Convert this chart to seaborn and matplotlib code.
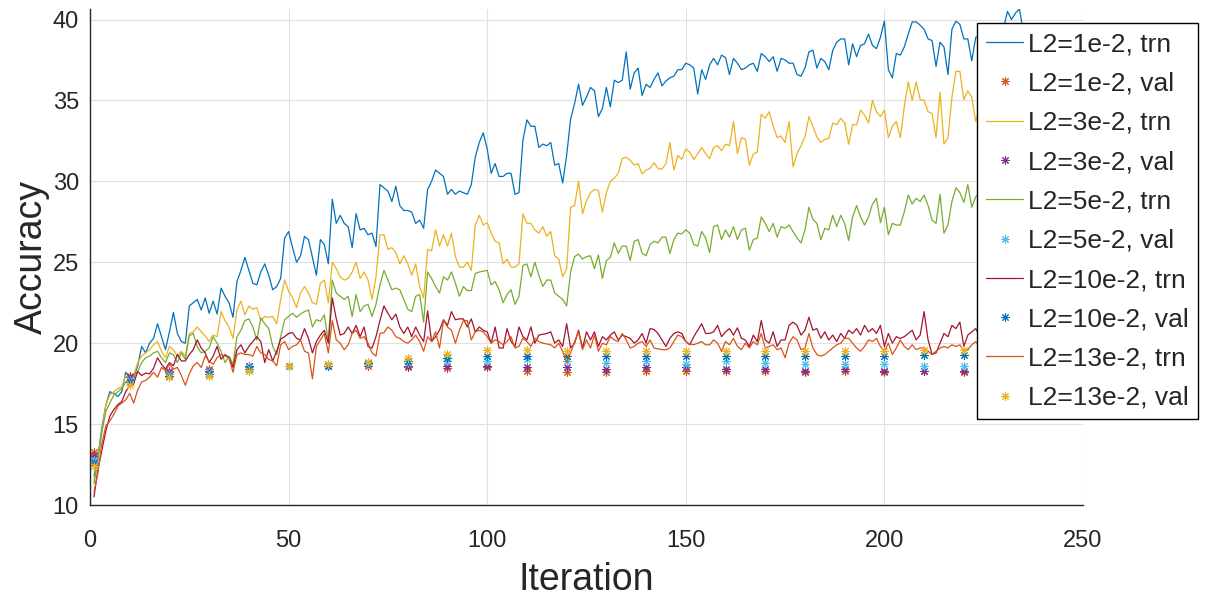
import numpy as np
import matplotlib
matplotlib.use("Agg")
import matplotlib.pyplot as plt
import seaborn as sns

# Training accuracy is logged every iteration, validation every 10 iterations
iters_trn = np.arange(1, 241)
iters_val = [1, 10, 20, 30, 40, 50, 60, 70, 80, 90, 100, 110, 120,
             130, 140, 150, 160, 170, 180, 190, 200, 210, 220, 230]

acc_trn_1e2 = [
    11.8, 13.0, 14.8, 16.2, 17.0, 16.9, 16.7, 17.0, 18.2, 17.9,
    17.9, 18.6, 19.8, 19.4, 20.0, 20.3, 21.2, 20.4, 19.6, 20.7,
    21.9, 20.6, 20.1, 20.0, 22.3, 22.5, 22.7, 22.05, 22.8, 21.85,
    22.6, 21.8, 23.4, 22.9, 22.5, 21.6, 23.8, 24.5, 25.3, 24.5,
    23.7, 23.6, 24.4, 24.9, 24.2, 23.3, 23.5, 24.0, 26.5, 26.9,
    25.9, 25.0, 25.4, 26.6, 26.4, 25.3, 24.2, 26.4, 26.1, 24.9,
    28.9, 27.4, 27.9, 27.4, 27.2, 25.9, 28.0, 27.0, 27.1, 26.7,
    26.8, 25.97, 29.8, 29.6, 29.4, 28.75, 29.7, 28.5, 28.2, 28.2,
    28.1, 27.4, 27.6, 27.1, 29.5, 30.0, 30.7, 30.5, 30.3, 29.2,
    29.5, 29.2, 29.4, 29.3, 29.2, 29.8, 31.5, 32.4, 33.0, 32.0,
    30.5, 31.1, 30.3, 30.3, 30.5, 30.5, 29.2, 29.3, 32.55, 33.8,
    33.4, 33.4, 32.1, 32.3, 32.2, 32.4, 31.0, 31.1, 29.9, 31.6,
    33.85, 34.8, 36.0, 34.7, 35.2, 35.8, 35.6, 34.0, 34.5, 35.8,
    34.6, 36.25, 36.1, 36.25, 38.0, 35.7, 36.7, 37.0, 35.3, 36.0,
    35.8, 36.3, 36.7, 35.9, 36.2, 36.4, 36.5, 36.9, 36.9, 37.3,
    37.2, 37.0, 35.4, 36.9, 36.3, 37.2, 37.6, 37.2, 37.8, 37.65,
    36.6, 37.6, 37.3, 36.9, 37.0, 37.2, 37.3, 36.8, 37.9, 37.7,
    37.4, 37.7, 36.8, 37.6, 37.5, 37.3, 37.3, 36.6, 36.5, 37.0,
    38.0, 38.1, 37.0, 37.6, 37.4, 36.9, 38.1, 38.6, 38.8, 38.8,
    37.2, 38.5, 37.7, 38.4, 38.5, 39.1, 38.4, 38.2, 38.9, 39.9,
    36.9, 36.4, 37.9, 37.8, 38.3, 39.1, 39.85, 39.85, 39.65, 39.4,
    38.8, 38.7, 37.1, 38.6, 38.3, 36.6, 39.4, 39.9, 39.7, 38.8,
    38.8, 37.45, 38.9, 39.0, 38.5, 37.8, 38.6, 39.2, 38.9, 39.5,
    40.5, 40.0, 40.4, 40.65, 39.2, 39.6, 39.7, 39.0, 38.6, 39.3,
]
acc_trn_3e2 = [
    11.5, 12.9, 14.6, 16.2, 16.8, 17.0, 17.2, 17.3, 18.0, 17.7,
    18.0, 18.8, 19.2, 19.4, 19.6, 19.9, 20.1, 19.5, 19.1, 19.8,
    19.6, 19.2, 19.5, 19.2, 20.6, 20.7, 21.0, 20.7, 20.45, 20.1,
    20.5, 20.4, 21.95, 21.4, 21.0, 20.3, 22.05, 22.6, 21.75, 22.3,
    22.1, 22.2, 21.4, 21.65, 21.6, 21.65, 21.2, 22.7, 23.9, 23.2,
    22.8, 22.2, 23.1, 23.5, 23.1, 22.5, 22.4, 23.7, 23.9, 22.5,
    25.0, 24.6, 24.1, 23.9, 24.0, 24.4, 25.0, 24.0, 24.4, 23.9,
    22.7, 24.1, 26.7, 26.7, 25.8, 25.9, 25.6, 24.9, 25.4, 24.9,
    24.2, 24.9, 23.5, 22.8, 25.8, 25.7, 27.0, 26.0, 26.7, 26.0,
    26.8, 25.35, 24.7, 24.7, 25.0, 24.5, 27.3, 27.9, 27.3, 27.45,
    26.8, 26.3, 26.2, 24.9, 25.2, 24.7, 24.7, 24.9, 28.0, 27.4,
    27.4, 27.0, 26.8, 27.2, 26.6, 26.9, 25.4, 25.2, 24.1, 24.6,
    28.4, 28.5, 30.0, 28.0, 28.8, 29.3, 29.5, 29.45, 28.1, 29.3,
    30.0, 30.2, 30.5, 31.4, 31.5, 31.3, 31.0, 31.1, 30.45, 30.7,
    30.8, 31.15, 30.8, 30.75, 31.1, 32.4, 30.7, 31.6, 31.35, 32.0,
    31.8, 31.35, 31.7, 32.1, 31.7, 31.4, 32.1, 32.2, 31.9, 32.3,
    32.2, 33.7, 31.7, 32.7, 32.6, 31.0, 31.7, 31.8, 34.15, 33.9,
    34.3, 33.4, 32.7, 32.8, 32.4, 33.7, 30.9, 31.7, 32.2, 32.75,
    34.0, 33.4, 32.75, 32.4, 32.6, 32.65, 33.6, 33.5, 33.9, 33.6,
    32.3, 33.5, 33.5, 34.4, 34.1, 33.6, 35.0, 34.3, 34.0, 34.4,
    32.7, 33.4, 33.7, 32.7, 34.6, 36.15, 35.0, 36.15, 35.05, 35.0,
    34.3, 34.2, 32.7, 35.5, 32.3, 32.7, 35.2, 36.8, 36.8, 35.05,
    35.6, 35.2, 33.7, 34.6, 35.4, 34.8, 36.0, 35.3, 34.7, 35.8,
    36.4, 35.6, 35.9, 36.6, 35.2, 34.9, 35.7, 36.2, 35.5, 35.9,
]
acc_trn_5e2 = [
    11.3, 12.8, 14.5, 15.8, 16.3, 16.8, 17.0, 17.2, 17.6, 17.7,
    17.9, 18.25, 18.8, 19.1, 19.2, 19.4, 19.5, 19.1, 18.8, 19.4,
    19.3, 18.8, 19.4, 19.0, 20.45, 20.6, 19.8, 19.4, 19.5, 19.7,
    20.4, 20.0, 19.5, 18.8, 19.2, 18.7, 20.4, 20.8, 21.4, 21.5,
    21.0, 20.2, 21.55, 21.2, 20.9, 19.8, 19.3, 20.4, 21.45, 21.65,
    21.85, 21.6, 21.8, 21.95, 22.05, 21.0, 21.45, 21.35, 21.75, 20.1,
    23.9, 23.1, 22.9, 22.7, 22.9, 21.65, 23.0, 21.95, 22.3, 22.4,
    21.65, 22.4, 23.6, 24.5, 23.9, 23.3, 23.4, 23.3, 22.7, 22.1,
    21.95, 22.9, 23.0, 21.3, 24.4, 24.0, 23.5, 23.1, 24.1, 23.9,
    24.4, 23.7, 22.9, 23.5, 23.25, 23.25, 24.3, 24.4, 24.45, 24.5,
    23.6, 23.8, 23.3, 22.5, 23.0, 23.3, 22.4, 22.9, 24.8, 24.9,
    24.1, 25.0, 24.2, 23.5, 23.9, 23.9, 23.1, 22.9, 22.7, 22.3,
    24.4, 25.35, 25.5, 25.2, 25.35, 25.4, 24.6, 25.45, 24.0, 25.1,
    25.3, 26.2, 25.55, 26.0, 26.0, 25.1, 26.3, 26.4, 25.55, 25.4,
    26.1, 26.3, 26.2, 26.55, 26.55, 25.55, 26.4, 26.8, 26.75, 27.0,
    26.8, 26.1, 26.0, 26.9, 26.5, 25.6, 27.2, 27.3, 26.4, 27.0,
    26.55, 27.2, 26.4, 27.0, 27.1, 25.75, 26.4, 26.5, 27.8, 27.4,
    26.9, 27.4, 26.55, 27.2, 27.1, 27.3, 26.9, 26.5, 26.2, 27.0,
    28.4, 27.65, 27.4, 26.4, 27.1, 27.0, 27.9, 27.2, 27.9, 27.4,
    26.35, 27.8, 28.5, 27.8, 27.3, 27.8, 28.6, 28.95, 27.45, 28.4,
    26.7, 27.4, 27.3, 27.3, 28.1, 29.15, 28.6, 28.95, 28.75, 29.15,
    28.5, 27.6, 27.4, 29.2, 26.8, 27.3, 28.75, 29.6, 29.3, 28.7,
    29.8, 28.4, 29.05, 29.3, 28.8, 29.5, 28.9, 29.9, 29.4, 29.1,
    30.0, 29.6, 29.2, 29.8, 30.2, 29.5, 29.9, 30.3, 29.7, 30.1,
]
acc_trn_10e2 = [
    10.5, 12.2, 13.4, 14.6, 15.5, 15.9, 16.2, 16.4, 17.0, 17.4,
    17.5, 18.25, 18.0, 18.15, 18.1, 18.45, 19.1, 18.7, 18.4, 18.8,
    18.6, 19.3, 18.9, 18.9, 19.3, 19.6, 20.2, 19.7, 19.4, 18.8,
    19.2, 19.8, 19.0, 19.3, 19.1, 18.5, 19.6, 19.9, 19.4, 19.8,
    20.1, 20.4, 20.1, 18.8, 19.6, 18.9, 19.5, 20.25, 20.4, 20.6,
    20.65, 20.3, 20.2, 20.9, 20.3, 19.4, 20.1, 20.5, 20.8, 20.0,
    22.8, 21.5, 20.5, 20.6, 21.0, 20.6, 21.1, 20.4, 21.0, 19.8,
    19.7, 20.4, 21.4, 22.3, 21.85, 21.45, 21.8, 21.0, 20.6, 21.0,
    20.4, 21.0, 20.5, 20.1, 22.0, 20.1, 20.4, 20.8, 21.45, 21.1,
    21.95, 21.45, 21.5, 21.5, 21.0, 21.5, 20.7, 21.0, 20.8, 20.7,
    20.0, 21.0, 19.7, 19.7, 20.9, 20.1, 19.8, 21.0, 20.4, 20.2,
    21.0, 20.0, 20.5, 20.55, 20.6, 20.7, 20.0, 20.2, 19.8, 21.2,
    19.7, 20.0, 20.8, 19.7, 20.7, 20.2, 20.7, 19.8, 20.4, 20.2,
    20.5, 20.7, 20.2, 20.5, 20.4, 20.3, 20.0, 20.2, 20.6, 20.0,
    20.9, 20.85, 20.6, 20.2, 19.8, 20.3, 20.6, 20.7, 20.6, 20.1,
    19.9, 20.4, 20.8, 21.2, 20.6, 20.6, 20.7, 21.1, 20.4, 20.7,
    20.9, 20.5, 20.95, 20.3, 20.2, 19.8, 20.5, 20.1, 21.4, 20.2,
    20.0, 20.7, 19.8, 20.2, 20.2, 21.1, 21.3, 21.1, 20.5, 20.8,
    21.6, 20.8, 20.9, 20.3, 20.7, 20.2, 20.5, 20.1, 20.6, 20.3,
    20.8, 20.6, 20.9, 20.5, 21.1, 20.7, 20.9, 20.6, 21.1, 19.8,
    20.6, 20.0, 20.4, 20.3, 20.4, 20.6, 20.8, 20.2, 20.5, 21.95,
    20.2, 19.3, 19.4, 20.0, 20.6, 20.4, 21.1, 20.9, 21.3, 19.8,
    20.5, 20.7, 20.9, 20.4, 20.8, 20.2, 21.0, 20.5, 20.7, 20.1,
    20.9, 20.6, 20.3, 21.2, 20.5, 20.8, 20.2, 20.7, 20.9, 20.4,
]
acc_trn_13e2 = [
    10.8, 12.0, 13.8, 14.9, 15.2, 15.6, 16.1, 16.3, 16.5, 16.9,
    16.3, 17.1, 17.6, 17.7, 17.9, 18.2, 17.9, 18.5, 18.3, 18.7,
    18.4, 18.5, 18.0, 17.4, 18.1, 18.6, 18.8, 18.5, 19.2, 18.9,
    18.7, 19.1, 19.3, 19.2, 19.1, 18.2, 19.3, 19.4, 19.3, 19.3,
    19.2, 19.8, 19.4, 19.3, 19.0, 18.9, 18.6, 19.9, 20.1, 19.6,
    19.8, 19.9, 20.2, 19.5, 19.4, 17.8, 19.8, 20.2, 20.6, 19.4,
    21.4, 20.2, 20.0, 19.6, 19.9, 20.6, 20.8, 20.3, 20.4, 20.0,
    19.4, 19.2, 20.6, 20.65, 21.0, 20.8, 20.4, 20.3, 20.1, 20.0,
    20.2, 20.5, 20.1, 19.5, 20.4, 20.1, 20.7, 19.7, 21.4, 21.0,
    20.8, 20.0, 20.8, 21.4, 21.4, 20.2, 20.7, 20.8, 20.7, 20.4,
    20.0, 20.2, 20.1, 19.9, 20.1, 20.4, 19.7, 19.8, 20.3, 20.1,
    19.8, 20.3, 20.1, 20.0, 19.95, 19.9, 19.7, 20.0, 19.5, 18.8,
    19.4, 20.1, 20.7, 19.6, 20.2, 19.7, 20.5, 19.5, 20.0, 19.9,
    20.4, 20.2, 20.1, 20.6, 20.2, 19.7, 19.8, 20.0, 20.1, 19.8,
    20.2, 19.7, 19.65, 19.6, 19.6, 19.7, 20.1, 20.5, 20.4, 20.1,
    19.95, 19.9, 20.0, 20.1, 19.9, 19.9, 20.2, 20.0, 19.5, 20.1,
    19.9, 20.3, 19.8, 19.6, 20.0, 19.7, 20.1, 19.9, 20.6, 19.7,
    19.8, 19.9, 19.6, 19.7, 19.1, 20.0, 20.4, 20.2, 19.6, 19.7,
    20.6, 19.7, 19.3, 19.2, 19.3, 19.5, 19.7, 19.9, 20.0, 20.3,
    20.3, 20.0, 19.7, 19.5, 19.8, 20.2, 20.1, 20.3, 19.8, 19.5,
    20.0, 19.3, 19.7, 20.2, 19.8, 19.6, 19.9, 19.6, 19.7, 19.7,
    19.5, 19.3, 19.5, 19.7, 19.8, 19.7, 19.9, 19.8, 19.9, 19.5,
    19.6, 19.9, 20.1, 19.8, 20.0, 19.7, 19.9, 20.2, 19.8, 19.6,
    19.9, 20.1, 19.8, 19.7, 20.0, 19.9, 19.6, 20.0, 19.8, 19.9,
]

acc_val_1e2 = [13.3, 18.0, 18.3, 18.4, 18.6, 18.6, 18.6, 18.6, 18.5, 18.45, 18.5, 18.3,
               18.2, 18.2, 18.3, 18.3, 18.3, 18.3, 18.2, 18.3, 18.2, 18.3, 18.2, 18.3]
acc_val_3e2 = [13.0, 17.9, 18.2, 18.3, 18.6, 18.6, 18.6, 18.7, 18.6, 18.6, 18.6, 18.5,
               18.5, 18.4, 18.5, 18.5, 18.4, 18.4, 18.3, 18.4, 18.3, 18.3, 18.3, 18.3]
acc_val_5e2 = [12.8, 17.7, 18.1, 18.2, 18.5, 18.6, 18.6, 18.7, 18.8, 18.9, 18.9, 19.0,
               18.9, 18.8, 18.9, 18.7, 18.9, 18.8, 18.7, 18.7, 18.7, 18.6, 18.6, 18.6]
acc_val_10e2 = [12.6, 17.6, 18.0, 18.1, 18.4, 18.6, 18.6, 18.75, 18.9, 19.1, 19.2, 19.2,
                19.2, 19.2, 19.2, 19.2, 19.2, 19.2, 19.2, 19.2, 19.2, 19.3, 19.3, 19.3]
acc_val_13e2 = [12.4, 17.4, 17.9, 18.0, 18.3, 18.6, 18.7, 18.85, 19.1, 19.35, 19.55, 19.55,
                19.5, 19.5, 19.5, 19.5, 19.5, 19.5, 19.5, 19.5, 19.5, 19.55, 19.55, 19.5]

reg_labels = ["L2=1e-2", "L2=3e-2", "L2=5e-2", "L2=10e-2", "L2=13e-2"]

# MATLAB-style default colour order
C_BLUE = "#0072BD"
C_ORANGE = "#D95319"
C_YELLOW = "#EDB120"
C_PURPLE = "#7E2F8E"
C_GREEN = "#77AC30"
C_CYAN = "#4DBEEE"
C_CRIMSON = "#A2142F"

runs = [
    (reg_labels[0], acc_trn_1e2, acc_val_1e2, C_BLUE, C_ORANGE),
    (reg_labels[1], acc_trn_3e2, acc_val_3e2, C_YELLOW, C_PURPLE),
    (reg_labels[2], acc_trn_5e2, acc_val_5e2, C_GREEN, C_CYAN),
    (reg_labels[3], acc_trn_10e2, acc_val_10e2, C_CRIMSON, C_BLUE),
    (reg_labels[4], acc_trn_13e2, acc_val_13e2, C_ORANGE, C_YELLOW),
]

sns.set_theme(style="whitegrid")
plt.rcParams["font.family"] = ["Liberation Sans", "DejaVu Sans"]

W, H = 1208, 599
fig = plt.figure(figsize=(W / 100, H / 100), dpi=100)
ax = fig.add_axes([90 / W, 1 - 505 / H, (1083 - 90) / W, (505 - 9) / H])

asterisk = (8, 2, 0)
for name, trn, val, c_trn, c_val in runs:
    sns.lineplot(x=iters_trn, y=trn, ax=ax, color=c_trn, linewidth=0.9,
                 estimator=None, sort=False, label=f"{name}, trn")
    sns.lineplot(x=iters_val, y=val, ax=ax, color=c_val, linestyle="",
                 marker=asterisk, markersize=6, markeredgewidth=0.75,
                 markeredgecolor=c_val, estimator=None, sort=False,
                 label=f"{name}, val")

ax.set_xlim(0, 250)
ax.set_ylim(10, 40.65)
ax.set_xticks([0, 50, 100, 150, 200, 250])
ax.set_yticks([10, 15, 20, 25, 30, 35, 40])

ax.grid(True, color="#e0e0e0", linewidth=0.8)
for side in ("top", "right"):
    ax.spines[side].set_visible(False)
for side in ("left", "bottom"):
    ax.spines[side].set_visible(True)
    ax.spines[side].set_color("#262626")
    ax.spines[side].set_linewidth(1.0)

ax.tick_params(axis="both", direction="in", length=8, width=1.0,
               color="#262626", labelcolor="#262626", labelsize=17)
ax.tick_params(axis="x", pad=18)
ax.tick_params(axis="y", pad=8)

ax.set_xlabel("Iteration", fontsize=27, color="#262626")
ax.set_ylabel("Accuracy", fontsize=27, color="#262626")
ax.xaxis.set_label_coords(0.5, -0.115)
ax.yaxis.set_label_coords(-0.040, 0.5)

leg = ax.legend(loc="upper left", bbox_to_anchor=(977 / W, 1 - 23 / H),
                bbox_transform=fig.transFigure, borderaxespad=0,
                fontsize=19, frameon=True, fancybox=False, framealpha=1,
                edgecolor="black", borderpad=0.35, labelspacing=0.58,
                handlelength=1.4, handletextpad=0.2)
leg.get_frame().set_linewidth(1.0)
leg.set_zorder(10)

fig.savefig("out.png", dpi=100, facecolor="white")
